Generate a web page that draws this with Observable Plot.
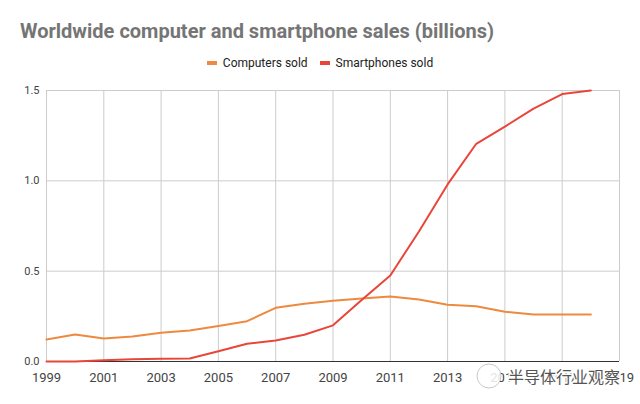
<!DOCTYPE html>
<html>
<head>
<meta charset="utf-8">
<script src="https://cdn.jsdelivr.net/npm/d3@7"></script>
<script src="https://cdn.jsdelivr.net/npm/@observablehq/plot@0.6"></script>
<style>
  html, body { margin: 0; padding: 0; background: #fff; }
  #wrap { position: relative; width: 640px; height: 404px; overflow: hidden; font-family: Roboto, "Liberation Sans", Arial, sans-serif; }
  #title { position: absolute; left: 20px; top: 19px; font-size: 20px; font-weight: bold; color: #757575; white-space: nowrap; }
  #legend { position: absolute; left: 0; top: 56px; width: 640px; display: flex; justify-content: center; gap: 12px; font-size: 12px; color: #222; }
  .item { display: flex; align-items: center; gap: 6px; }
  .sw { width: 10px; height: 4px; display: inline-block; }
  #chart { position: absolute; left: 0; top: 75px; }
  #wm { position: absolute; left: 0; top: 0; pointer-events: none; }
</style>
</head>
<body>
<div id="wrap">
  <div id="title"></div>
  <div id="legend"></div>
  <div id="chart"></div>
  <div id="wm"></div>
</div>
<script>
const years = [1999, 2000, 2001, 2002, 2003, 2004, 2005, 2006, 2007, 2008, 2009, 2010, 2011, 2012, 2013, 2014, 2015, 2016, 2017, 2018];
const computersSold = [0.122, 0.149, 0.127, 0.138, 0.159, 0.172, 0.197, 0.223, 0.297, 0.32, 0.336, 0.349, 0.36, 0.343, 0.314, 0.306, 0.275, 0.26, 0.26, 0.26];
const smartphonesSold = [0.0, 0.0, 0.007, 0.012, 0.015, 0.017, 0.057, 0.098, 0.116, 0.148, 0.2, 0.34, 0.476, 0.72, 0.98, 1.205, 1.30, 1.40, 1.48, 1.50];
const seriesNames = ["Computers sold", "Smartphones sold"];
const seriesColors = ["#ee8a3f", "#e9463a"];
const xTicks = [1999, 2001, 2003, 2005, 2007, 2009, 2011, 2013, 2015, 2017, 2019];
const yTicks = [0, 0.5, 1.0, 1.5];
const titleText = "Worldwide computer and smartphone sales (billions)";
const watermark = "半导体行业观察";

document.getElementById("title").textContent = titleText;

const data = [];
years.forEach((yr, i) => {
  data.push({year: yr, value: computersSold[i], series: seriesNames[0]});
  data.push({year: yr, value: smartphonesSold[i], series: seriesNames[1]});
});

// legend
const legend = document.getElementById("legend");
seriesNames.forEach((n, i) => {
  const it = document.createElement("div");
  it.className = "item";
  it.innerHTML = `<span class="sw" style="background:${seriesColors[i]}"></span><span>${n}</span>`;
  legend.appendChild(it);
});

const chart = Plot.plot({
  width: 640,
  height: 329,
  marginLeft: 46,
  marginRight: 21,
  marginTop: 15,
  marginBottom: 43,
  style: {fontFamily: "Roboto, 'Liberation Sans', Arial, sans-serif", background: "#fff"},
  x: {domain: [1999, 2019], ticks: xTicks, tickFormat: d => String(d), label: null},
  y: {domain: [0, 1.5], ticks: yTicks, tickFormat: d => d.toFixed(1), label: null},
  color: {domain: seriesNames, range: seriesColors},
  marks: [
    Plot.gridX(xTicks, {stroke: "#cccccc", strokeOpacity: 1}),
    Plot.gridY(yTicks.filter(d => d > 0), {stroke: "#cccccc", strokeOpacity: 1}),
    Plot.axisY(yTicks, {tickSize: 0, tickPadding: 7, fontSize: 11, fill: "#444", tickFormat: d => d.toFixed(1), label: null}),
    Plot.axisX(xTicks, {tickSize: 0, tickPadding: 11, fontSize: 13, fill: "#444", tickFormat: d => String(d), label: null}),
    Plot.ruleY([0], {stroke: "#333", strokeWidth: 1}),
    Plot.line(data, {x: "year", y: "value", stroke: "series", z: "series", strokeWidth: 2})
  ]
});
document.getElementById("chart").appendChild(chart);

// watermark overlay
const wm = d3.select("#wm").append("svg").attr("width", 640).attr("height", 404);
wm.append("circle").attr("cx", 489).attr("cy", 376).attr("r", 12)
  .attr("fill", "rgba(255,255,255,0.85)").attr("stroke", "#c8c8c8").attr("stroke-width", 1);
wm.append("text").attr("x", 620).attr("y", 383).attr("text-anchor", "end")
  .attr("font-family", "'Noto Sans CJK SC', sans-serif").attr("font-size", 16)
  .attr("fill", "#555").attr("stroke", "#fff").attr("stroke-width", 3).attr("paint-order", "stroke")
  .text(watermark);
</script>
</body>
</html>
